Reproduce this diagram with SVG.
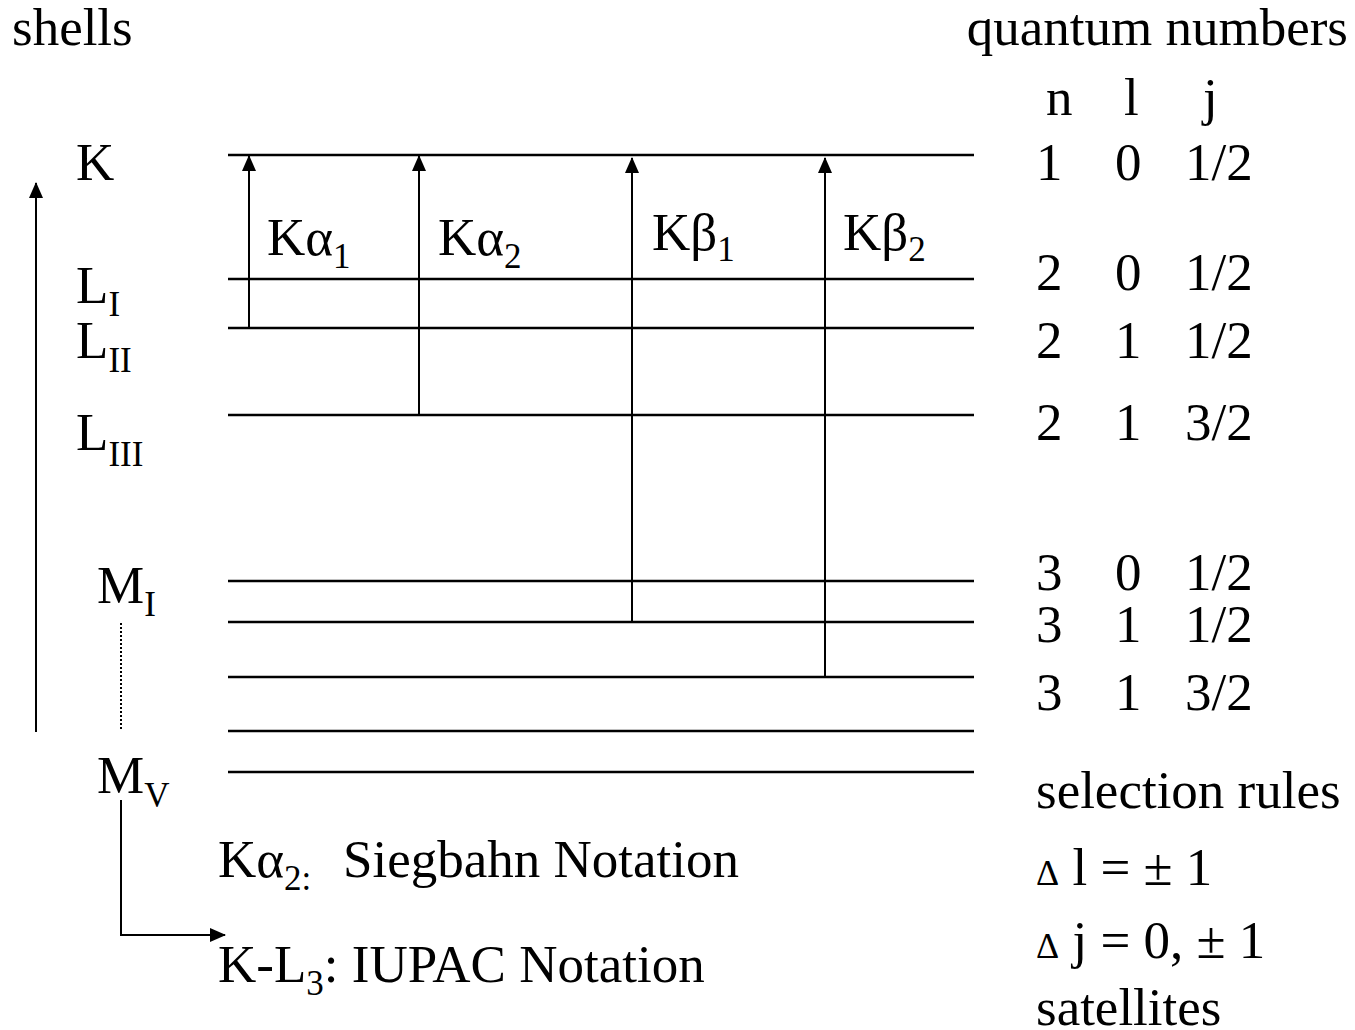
<svg xmlns="http://www.w3.org/2000/svg" width="1355" height="1030" viewBox="0 0 1355 1030">
<style>
text{font-family:"Liberation Serif","Times New Roman",serif;font-size:53px;fill:#000}
.sub{font-size:35px}
.lvl{stroke:#000;stroke-width:2.5}
.tr{stroke:#000;stroke-width:2;fill:none}
</style>
<defs>
<marker id="ah2" markerWidth="16" markerHeight="14" refX="15" refY="7" orient="auto" markerUnits="userSpaceOnUse" viewBox="0 0 16 14">
<path d="M0,0 L16,7 L0,14 z" fill="#000"/>
</marker>
</defs>
<rect width="1355" height="1030" fill="#fff"/>
<g id="levels">
<line class="lvl" x1="228" y1="155" x2="974" y2="155"/>
<line class="lvl" x1="228" y1="279" x2="974" y2="279"/>
<line class="lvl" x1="228" y1="328" x2="974" y2="328"/>
<line class="lvl" x1="228" y1="415" x2="974" y2="415"/>
<line class="lvl" x1="228" y1="581" x2="974" y2="581"/>
<line class="lvl" x1="228" y1="622" x2="974" y2="622"/>
<line class="lvl" x1="228" y1="677" x2="974" y2="677"/>
<line class="lvl" x1="228" y1="731" x2="974" y2="731"/>
<line class="lvl" x1="228" y1="772" x2="974" y2="772"/>
</g>
<g id="connectors">
<line class="tr" x1="249" y1="328" x2="249" y2="156" marker-end="url(#ah2)"/>
<line class="tr" x1="419" y1="415" x2="419" y2="156" marker-end="url(#ah2)"/>
<line class="tr" x1="632" y1="622" x2="632" y2="158" marker-end="url(#ah2)"/>
<line class="tr" x1="825" y1="677" x2="825" y2="158" marker-end="url(#ah2)"/>
<line class="tr" x1="36" y1="732" x2="36" y2="183" marker-end="url(#ah2)"/>
<line x1="121" y1="623" x2="121" y2="731" stroke="#000" stroke-width="2" stroke-dasharray="2,2"/>
<polyline class="tr" points="121,800 121,935 225,935" stroke-width="3" marker-end="url(#ah2)"/>
</g>
<g id="shell-labels">
<text x="12" y="45">shells</text>
<text x="76" y="180">K</text>
<text x="76" y="303">L<tspan class="sub" dy="13">I</tspan></text>
<text x="76" y="358">L<tspan class="sub" dy="14">II</tspan></text>
<text x="76" y="450">L<tspan class="sub" dy="16">III</tspan></text>
<text x="97" y="603">M<tspan class="sub" dy="13">I</tspan></text>
<text x="97" y="793">M<tspan class="sub" dy="14">V</tspan></text>
</g>
<g id="transition-labels">
<text x="267" y="255">Kα<tspan class="sub" dy="13">1</tspan></text>
<text x="438" y="255">Kα<tspan class="sub" dy="13">2</tspan></text>
<text x="652" y="250">Kβ<tspan class="sub" dy="11">1</tspan></text>
<text x="843" y="250">Kβ<tspan class="sub" dy="11">2</tspan></text>
</g>
<g id="quantum-numbers">
<text x="1348" y="45" text-anchor="end">quantum numbers</text>
<text x="1046" y="115">n</text><text x="1124" y="115">l</text><text x="1203" y="115">j</text>
<text x="1036" y="180">1</text><text x="1115" y="180">0</text><text x="1185" y="180">1/2</text>
<text x="1036" y="290">2</text><text x="1115" y="290">0</text><text x="1185" y="290">1/2</text>
<text x="1036" y="358">2</text><text x="1115" y="358">1</text><text x="1185" y="358">1/2</text>
<text x="1036" y="440">2</text><text x="1115" y="440">1</text><text x="1185" y="440">3/2</text>
<text x="1036" y="590">3</text><text x="1115" y="590">0</text><text x="1185" y="590">1/2</text>
<text x="1036" y="642">3</text><text x="1115" y="642">1</text><text x="1185" y="642">1/2</text>
<text x="1036" y="710">3</text><text x="1115" y="710">1</text><text x="1185" y="710">3/2</text>
</g>
<g id="selection-rules">
<text x="1036" y="808">selection rules</text>
<text x="1036" y="885"><tspan font-size="36">Δ</tspan> l = ± 1</text>
<text x="1036" y="958"><tspan font-size="36">Δ</tspan> j = 0, ± 1</text>
<text x="1036" y="1025">satellites</text>
</g>
<g id="notation">
<text x="218" y="877">Kα<tspan class="sub" dy="13">2:</tspan><tspan x="343" dy="-13">Siegbahn Notation</tspan></text>
<text x="218" y="982">K-L<tspan class="sub" dy="13">3</tspan><tspan dy="-13">: IUPAC Notation</tspan></text>
</g>
</svg>
